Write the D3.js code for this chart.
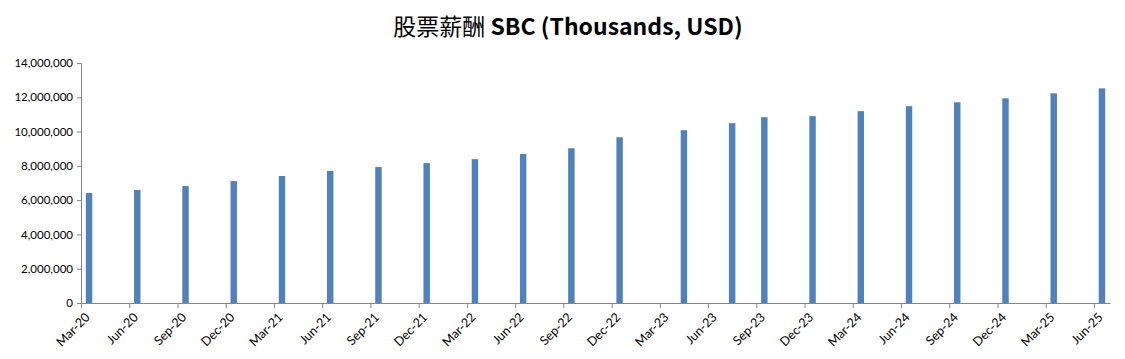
<!DOCTYPE html>
<html>
<head>
<meta charset="utf-8">
<script src="https://cdn.jsdelivr.net/npm/d3@7"></script>
<style>
  body { margin: 0; background: #fff; }
  .axis path, .axis line { stroke: #868686; }
  .axis text { font-family: Lato, "Open Sans", sans-serif; font-size: 11.5px; fill: #000; }
  .x-axis text { font-size: 12.5px; }
  .title { font-family: "Noto Sans CJK SC", sans-serif; font-size: 23px; font-weight: bold; }
</style>
</head>
<body>
<div id="chart"></div>
<script>
// month slots from Mar-20 to Jun-25 (Excel date axis, base unit = month)
const months = ["Mar-20","Apr-20","May-20","Jun-20","Jul-20","Aug-20","Sep-20","Oct-20","Nov-20","Dec-20",
  "Jan-21","Feb-21","Mar-21","Apr-21","May-21","Jun-21","Jul-21","Aug-21","Sep-21","Oct-21","Nov-21","Dec-21",
  "Jan-22","Feb-22","Mar-22","Apr-22","May-22","Jun-22","Jul-22","Aug-22","Sep-22","Oct-22","Nov-22","Dec-22",
  "Jan-23","Feb-23","Mar-23","Apr-23","May-23","Jun-23","Jul-23","Aug-23","Sep-23","Oct-23","Nov-23","Dec-23",
  "Jan-24","Feb-24","Mar-24","Apr-24","May-24","Jun-24","Jul-24","Aug-24","Sep-24","Oct-24","Nov-24","Dec-24",
  "Jan-25","Feb-25","Mar-25","Apr-25","May-25","Jun-25"];

const tickLabels = ["Mar-20","Jun-20","Sep-20","Dec-20","Mar-21","Jun-21","Sep-21","Dec-21",
  "Mar-22","Jun-22","Sep-22","Dec-22","Mar-23","Jun-23","Sep-23","Dec-23",
  "Mar-24","Jun-24","Sep-24","Dec-24","Mar-25","Jun-25"];

const periods = ["Mar-20","Jun-20","Sep-20","Dec-20","Mar-21","Jun-21","Sep-21","Dec-21",
  "Mar-22","Jun-22","Sep-22","Dec-22","Apr-23","Jul-23","Sep-23","Dec-23",
  "Mar-24","Jun-24","Sep-24","Dec-24","Mar-25","Jun-25"];

const sbc = [6420000, 6590000, 6820000, 7110000, 7410000, 7700000, 7930000, 8160000,
  8390000, 8690000, 9030000, 9670000, 10080000, 10490000, 10840000, 10900000,
  11190000, 11480000, 11710000, 11940000, 12230000, 12520000];

const yTicks = [0, 2000000, 4000000, 6000000, 8000000, 10000000, 12000000, 14000000];

const W = 1125, H = 359;
const margin = { top: 63, right: 15, bottom: 56, left: 81 };
const width = W - margin.left - margin.right;
const height = H - margin.top - margin.bottom;

const svg = d3.select("#chart").append("svg")
  .attr("width", W).attr("height", H);

const title = svg.append("text")
  .attr("class", "title")
  .attr("x", 568).attr("y", 35)
  .attr("text-anchor", "middle");
title.append("tspan").attr("font-weight", "normal").text("股票薪酬 ");
title.append("tspan").text("SBC (Thousands, USD)");

const g = svg.append("g").attr("transform", `translate(${margin.left},${margin.top})`);

// linear scale over month index, each month one slot
const x = d3.scaleLinear().domain([0, months.length]).range([0, width]);
const y = d3.scaleLinear().domain([0, 14000000]).range([height, 0]);

// bars
g.selectAll(".bar")
  .data(periods.map((p, i) => ({ p, v: sbc[i] })))
  .enter().append("rect")
  .attr("class", "bar")
  .attr("x", d => x(months.indexOf(d.p) + 0.3))
  .attr("width", x(0.4) - x(0))
  .attr("y", d => y(d.v))
  .attr("height", d => height - y(d.v))
  .attr("fill", "#4F81BD");

// y axis
g.append("g")
  .attr("class", "axis y-axis")
  .call(d3.axisLeft(y).tickValues(yTicks).tickSize(4).tickPadding(4)
    .tickFormat(d3.format(",")));

// x axis
const xAxis = g.append("g")
  .attr("class", "axis x-axis")
  .attr("transform", `translate(0,${height})`)
  .call(d3.axisBottom(x)
    .tickValues(tickLabels.map(t => months.indexOf(t)))
    .tickSize(5).tickSizeOuter(0)
    .tickFormat(i => months[i]));

xAxis.selectAll("text")
  .attr("text-anchor", "end")
  .attr("x", 0).attr("y", 0)
  .attr("dy", "0.35em")
  .attr("transform", "translate(6,12) rotate(-45)");
</script>
</body>
</html>
